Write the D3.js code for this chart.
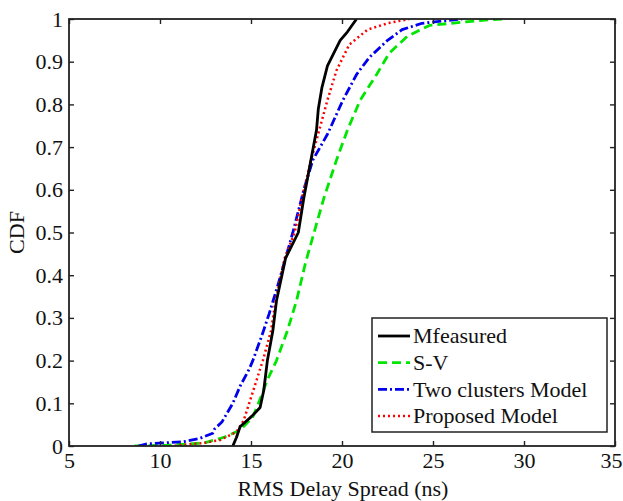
<!DOCTYPE html>
<html>
<head>
<meta charset="utf-8">
<script src="https://cdn.jsdelivr.net/npm/d3@7"></script>
<style>
  html, body { margin: 0; padding: 0; background: #fff; }
  svg { display: block; }
  text { font-family: "Liberation Serif", "Times New Roman", serif; fill: #111; }
</style>
</head>
<body>
<svg id="chart" width="623" height="501"></svg>
<script>
// Empirical CDFs of RMS delay spread (ns)
const cdfLevels = [0, 0.02, 0.045, 0.07, 0.09, 0.13, 0.2, 0.27, 0.34, 0.44, 0.5, 0.58, 0.66, 0.74, 0.79, 0.84, 0.89, 0.95, 0.97, 1];
const measured  = [14.0, 14.2, 14.4, 15.05, 15.5, 15.7, 15.9, 16.2, 16.4, 16.9, 17.6, 17.9, 18.25, 18.6, 18.7, 18.9, 19.2, 19.9, 20.3, 20.8];

const svLevels = [0, 0.002, 0.007, 0.02, 0.037, 0.068, 0.11, 0.155, 0.2, 0.27, 0.34, 0.43, 0.58, 0.67, 0.74, 0.81, 0.87, 0.92, 0.96, 0.985, 0.997, 1];
const svModel  = [8.6, 10.5, 12.4, 13.5, 14.4, 15.1, 15.5, 15.9, 16.4, 17.0, 17.5, 18.0, 19.0, 19.7, 20.3, 21.0, 21.9, 22.6, 23.6, 24.8, 27.7, 29.0];

const twoLevels  = [0, 0.005, 0.01, 0.018, 0.03, 0.04, 0.056, 0.1, 0.14, 0.18, 0.2, 0.265, 0.31, 0.38, 0.5, 0.6, 0.67, 0.73, 0.81, 0.87, 0.91, 0.95, 0.975, 0.99, 1];
const twoCluster = [8.8, 9.3, 11.3, 12.2, 12.9, 13.0, 13.4, 14.0, 14.4, 14.9, 15.1, 15.65, 16.0, 16.5, 17.3, 17.9, 18.4, 19.2, 20.05, 20.8, 21.5, 22.5, 23.3, 24.4, 26.6];

const propLevels = [0, 0.002, 0.007, 0.014, 0.033, 0.06, 0.1, 0.14, 0.18, 0.2, 0.27, 0.34, 0.44, 0.5, 0.58, 0.67, 0.81, 0.88, 0.94, 0.975, 0.99, 1];
const proposed   = [10.8, 11.0, 12.4, 13.3, 14.2, 14.6, 14.9, 15.2, 15.5, 15.65, 16.1, 16.35, 16.85, 17.4, 17.8, 18.3, 19.2, 19.7, 20.4, 21.4, 22.5, 23.7];

const xTicks = [5, 10, 15, 20, 25, 30, 35];
const yTicks = [0, 0.1, 0.2, 0.3, 0.4, 0.5, 0.6, 0.7, 0.8, 0.9, 1];

const series = [
  { name: "Mfeasured", xs: measured, ps: cdfLevels, color: "#000000", dash: null, width: 2.8 },
  { name: "S-V", xs: svModel, ps: svLevels, color: "#00e600", dash: "9,5", width: 2.8 },
  { name: "Two clusters Model", xs: twoCluster, ps: twoLevels, color: "#0000ee", dash: "9,3,2,3", width: 2.8 },
  { name: "Proposed Model", xs: proposed, ps: propLevels, color: "#ff0000", dash: "2,3", width: 2.5 }
];

const svg = d3.select("#chart");
const plotL = 69, plotR = 615, plotT = 19, plotB = 446;
const fontSize = 22;

const x = d3.scaleLinear().domain([5, 35]).range([plotL, plotR]);
const y = d3.scaleLinear().domain([0, 1]).range([plotB, plotT]);

// Curves, clipped to the plot box
svg.append("clipPath").attr("id", "plotClip")
  .append("rect").attr("x", plotL).attr("y", plotT).attr("width", plotR - plotL).attr("height", plotB - plotT);

const line = d3.line().x(d => x(d[0])).y(d => y(d[1]));
const curves = svg.append("g").attr("clip-path", "url(#plotClip)");
// Draw in order so that measured sits on top
[series[1], series[2], series[3], series[0]].forEach(s => {
  const pts = s.xs.map((v, i) => [v, s.ps[i]]);
  curves.append("path")
    .datum(pts)
    .attr("d", line)
    .attr("fill", "none")
    .attr("stroke", s.color)
    .attr("stroke-width", s.width)
    .attr("stroke-dasharray", s.dash)
    .attr("stroke-linejoin", "round");
});

// Axes: ticks inside the box on all four sides
const tickLen = 5;
const axisStyle = g => {
  g.selectAll(".domain").remove();
  g.selectAll("line").attr("stroke", "#222").attr("stroke-width", 1.4);
};

svg.append("g").attr("transform", `translate(0,${plotB})`)
  .call(d3.axisBottom(x).tickValues(xTicks).tickSize(-tickLen).tickPadding(6).tickFormat(d3.format("d")))
  .call(axisStyle)
  .call(g => g.selectAll("text").attr("font-size", fontSize).style("font-family", "Liberation Serif"))
  // last label sits against the page edge: keep it inside
  .call(g => g.selectAll(".tick").filter(d => d === 35).select("text")
    .attr("text-anchor", "end").attr("x", 7));

svg.append("g").attr("transform", `translate(0,${plotT})`)
  .call(d3.axisTop(x).tickValues(xTicks).tickSize(-tickLen).tickFormat(""))
  .call(axisStyle);

svg.append("g").attr("transform", `translate(${plotL},0)`)
  .call(d3.axisLeft(y).tickValues(yTicks).tickSize(-tickLen).tickPadding(6).tickFormat(d => d === 0 || d === 1 ? d3.format("d")(d) : d3.format(".1f")(d)))
  .call(axisStyle)
  .call(g => g.selectAll("text").attr("font-size", fontSize).style("font-family", "Liberation Serif"));

svg.append("g").attr("transform", `translate(${plotR},0)`)
  .call(d3.axisRight(y).tickValues(yTicks).tickSize(-tickLen).tickFormat(""))
  .call(axisStyle);

// Plot frame
svg.append("rect")
  .attr("x", plotL).attr("y", plotT).attr("width", plotR - plotL).attr("height", plotB - plotT)
  .attr("fill", "none").attr("stroke", "#222").attr("stroke-width", 1.8);

// Axis titles
svg.append("text")
  .attr("x", 343).attr("y", 496)
  .attr("text-anchor", "middle").attr("font-size", fontSize)
  .text("RMS Delay Spread (ns)");

svg.append("text")
  .attr("transform", `translate(24,${(plotT + plotB) / 2}) rotate(-90)`)
  .attr("text-anchor", "middle").attr("font-size", fontSize)
  .text("CDF");

// Legend
const lg = svg.append("g");
lg.append("rect")
  .attr("x", 372).attr("y", 318).attr("width", 235).attr("height", 114)
  .attr("fill", "#fff").attr("stroke", "#222").attr("stroke-width", 1.5);

series.forEach((s, i) => {
  const ly = 336 + i * 26.7;
  lg.append("line")
    .attr("x1", 378).attr("x2", 410).attr("y1", ly).attr("y2", ly)
    .attr("stroke", s.color).attr("stroke-width", s.width)
    .attr("stroke-dasharray", s.dash);
  lg.append("text")
    .attr("x", 413).attr("y", ly).attr("dy", "0.33em")
    .attr("font-size", fontSize)
    .text(s.name);
});
</script>
</body>
</html>
